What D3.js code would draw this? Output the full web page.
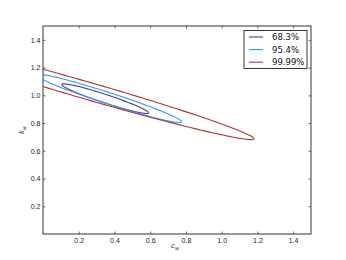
<!DOCTYPE html>
<html>
<head>
<meta charset="utf-8">
<script src="https://cdn.jsdelivr.net/npm/d3@7"></script>
<style>
  body { margin: 0; background: #fff; }
  svg { display: block; font-family: "DejaVu Sans", sans-serif; }
</style>
</head>
<body>
<div id="chart"></div>
<script>
// confidence levels and their contour (ellipse) parameters, in data units
const levels = ["68.3%", "95.4%", "99.99%"];
const centerC = [0.348, 0.369, 0.271];
const centerK = [0.976, 0.978, 1.025];
const tipDC = [0.243, 0.407, 0.910];   // offset from centre to right tip
const tipDK = [-0.102, -0.169, -0.338];
const halfK = [0.032, 0.043, 0.065];   // vertical half-height at the centre
const colors = ["#453f9c", "#3399ff", "#b03535"];

const xTicks = [0.2, 0.4, 0.6, 0.8, 1.0, 1.2, 1.4];
const yTicks = [0.2, 0.4, 0.6, 0.8, 1.0, 1.2, 1.4];

const width = 346, height = 260;
const margin = {top: 26, right: 35, bottom: 26, left: 43};
const w = width - margin.left - margin.right;
const h = height - margin.top - margin.bottom;

const svg = d3.select("#chart").append("svg")
  .attr("width", width)
  .attr("height", height);

svg.append("rect").attr("width", width).attr("height", height).attr("fill", "#fff");

const x = d3.scaleLinear().domain([0, 1.5]).range([0, w]);
const y = d3.scaleLinear().domain([0, 1.5]).range([h, 0]);

const g = svg.append("g")
  .attr("transform", `translate(${margin.left},${margin.top})`);

g.append("clipPath").attr("id", "clip")
  .append("rect").attr("width", w).attr("height", h);

// contours
const line = d3.line().x(d => x(d[0])).y(d => y(d[1]));
const steps = d3.range(0, 361, 2).map(a => a * Math.PI / 180);
levels.forEach((lv, i) => {
  const pts = steps.map(t => [
    centerC[i] + Math.cos(t) * tipDC[i],
    centerK[i] + Math.cos(t) * tipDK[i] + Math.sin(t) * halfK[i]
  ]);
  g.append("path")
    .attr("clip-path", "url(#clip)")
    .attr("d", line(pts))
    .attr("fill", "none")
    .attr("stroke", colors[i])
    .attr("stroke-width", 1.1);
});

// axes with inward ticks on all four sides
const tickLen = 2.5;
const fmt = d3.format(".1f");
const styleAxis = sel => {
  sel.select(".domain").remove();
  sel.selectAll(".tick line").attr("stroke", "#333").attr("stroke-width", 0.7);
  sel.selectAll(".tick text").attr("fill", "#222").style("font-size", "7px");
};

g.append("g").attr("transform", `translate(0,${h})`)
  .call(d3.axisBottom(x).tickValues(xTicks).tickFormat(fmt).tickSizeInner(-tickLen).tickPadding(4))
  .call(styleAxis);
g.append("g")
  .call(d3.axisTop(x).tickValues(xTicks).tickFormat("").tickSizeInner(-tickLen))
  .call(styleAxis);
g.append("g")
  .call(d3.axisLeft(y).tickValues(yTicks).tickFormat(fmt).tickSizeInner(-tickLen).tickPadding(2.5))
  .call(styleAxis);
g.append("g").attr("transform", `translate(${w},0)`)
  .call(d3.axisRight(y).tickValues(yTicks).tickFormat("").tickSizeInner(-tickLen))
  .call(styleAxis);

g.append("rect")
  .attr("width", w).attr("height", h)
  .attr("fill", "none").attr("stroke", "#333").attr("stroke-width", 1);

// axis labels
const xl = svg.append("text")
  .attr("x", margin.left + w / 2 - 2).attr("y", 248)
  .attr("text-anchor", "middle").style("font-size", "7px").attr("fill", "#222");
xl.append("tspan").style("font-style", "italic").text("c");
xl.append("tspan").attr("dy", 1.8).style("font-size", "5px").style("font-style", "italic").text("w");

const yl = svg.append("text")
  .attr("transform", `translate(24,${margin.top + h / 2}) rotate(-90)`)
  .attr("text-anchor", "middle").style("font-size", "7px").attr("fill", "#222");
yl.append("tspan").style("font-style", "italic").text("k");
yl.append("tspan").attr("dy", 1.8).style("font-size", "5px").style("font-style", "italic").text("w");

// legend
const legend = svg.append("g").attr("transform", "translate(244,30.5)");
legend.append("rect")
  .attr("width", 63).attr("height", 38)
  .attr("fill", "#fff").attr("stroke", "#222").attr("stroke-width", 0.9);
levels.forEach((lv, i) => {
  const ly = 6.5 + i * 12.6;
  legend.append("line")
    .attr("x1", 5).attr("x2", 19)
    .attr("y1", ly).attr("y2", ly)
    .attr("stroke", colors[i]).attr("stroke-width", 1.1);
  legend.append("text")
    .attr("x", 28).attr("y", ly)
    .attr("dy", "0.35em")
    .style("font-size", "8.5px").attr("fill", "#111")
    .text(lv);
});
</script>
</body>
</html>
